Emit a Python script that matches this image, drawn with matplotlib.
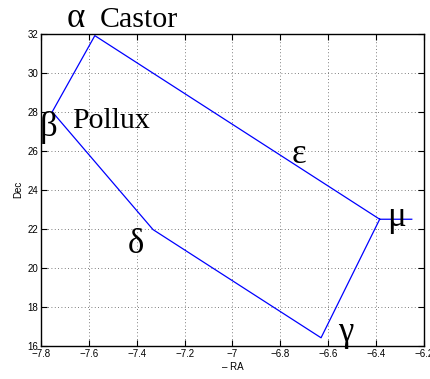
import matplotlib
matplotlib.use("Agg")
import matplotlib.pyplot as plt

# Gemini outline: -RA (hours) and Dec (degrees)
neg_ra = [-6.251, -6.385, -7.575, -7.753, -7.332, -6.630, -6.385]
dec = [22.49, 22.49, 31.89, 27.99, 21.96, 16.42, 22.49]

# greek star letters: text, -RA, Dec
greek = ["\u03b1", "\u03b2", "\u03b5", "\u03bc", "\u03b4", "\u03b3"]
greek_x = [-7.692, -7.806, -6.751, -6.354, -7.437, -6.558]
greek_y = [32.35, 26.74, 25.36, 22.13, 20.74, 16.23]

# proper names
names = ["Castor", "Pollux"]
names_x = [-7.554, -7.668]
names_y = [32.35, 27.15]

xticks = [-7.8, -7.6, -7.4, -7.2, -7.0, -6.8, -6.6, -6.4, -6.2]
xtick_labels = ["\u22127.8", "\u22127.6", "\u22127.4", "\u22127.2", "\u22127",
                "\u22126.8", "\u22126.6", "\u22126.4", "\u22126.2"]
yticks = [16, 18, 20, 22, 24, 26, 28, 30, 32]

plt.rcParams["font.family"] = ["Liberation Sans", "DejaVu Sans"]
SERIF = ["Liberation Serif", "DejaVu Serif"]

fig = plt.figure(figsize=(4.3, 3.79), dpi=100)
ax = fig.add_axes([0.0953, 0.0871, 0.8907, 0.8245])

ax.plot(neg_ra, dec, color="#0000ff", linewidth=0.9)

for t, x, y in zip(greek, greek_x, greek_y):
    ax.text(x, y, t, fontsize=25, family=SERIF,
            ha="left", va="baseline", clip_on=False)
for t, x, y in zip(names, names_x, names_y):
    ax.text(x, y, t, fontsize=21.5, family=SERIF,
            ha="left", va="baseline", clip_on=False)

ax.set_xlim(-7.8, -6.2)
ax.set_ylim(16, 32)
ax.set_xticks(xticks)
ax.set_xticklabels(xtick_labels)
ax.set_yticks(yticks)
ax.tick_params(direction="in", length=4, width=0.8, labelsize=7,
               top=True, right=True, pad=2)
ax.grid(True, linestyle=(0, (1, 3)), color="#555555", linewidth=0.6)
for s in ax.spines.values():
    s.set_linewidth(1.0)

ax.set_xlabel("\u2013 RA", fontsize=7, labelpad=2)
ax.set_ylabel("Dec", fontsize=7, labelpad=3)

fig.savefig("out.png", dpi=100)
plt.close(fig)
